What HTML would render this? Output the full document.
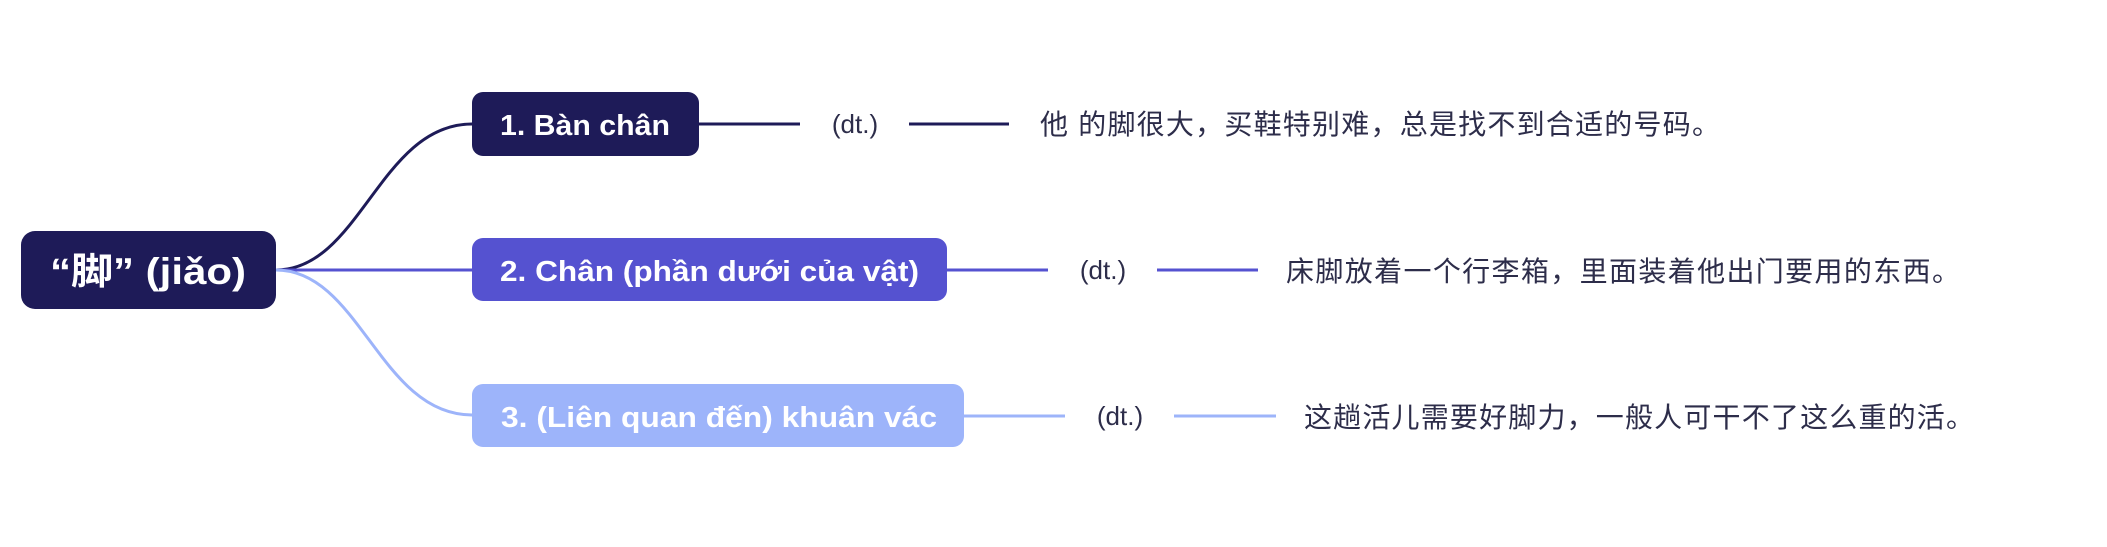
<!DOCTYPE html>
<html><head><meta charset="utf-8"><style>
html,body{margin:0;padding:0;background:#fff;}
body{width:2107px;height:547px;overflow:hidden;position:relative;}
svg{position:absolute;left:0;top:0;}
</style></head><body>
<svg width="2107" height="547" viewBox="0 0 2107 547" xmlns="http://www.w3.org/2000/svg">
<g fill="none" stroke-width="3">
<path d="M276 270 C 360 270, 380 124, 472 124" stroke="#1e1b58"/>
<path d="M276 270 L 472 270" stroke="#5552d0"/>
<path d="M276 270 C 360 270, 380 415, 472 415" stroke="#9db4fa"/>
<path d="M699 124 L800 124 M909 124 L1009 124" stroke="#1e1b58"/>
<path d="M947 270 L1048 270 M1157 270 L1258 270" stroke="#5552d0"/>
<path d="M964 416 L1065 416 M1174 416 L1276 416" stroke="#9db4fa"/>
</g>
<rect x="21" y="231" width="255" height="78" rx="14" fill="#1e1b58"/>
<rect x="472" y="92" width="227" height="64" rx="11" fill="#1e1b58"/>
<rect x="472" y="238" width="475" height="63" rx="11" fill="#5552d0"/>
<rect x="472" y="384" width="492" height="63" rx="11" fill="#9db4fa"/>
<g font-family="Liberation Sans, Noto Sans CJK SC, sans-serif" fill="#fff" font-weight="bold">
<text x="50" y="284" font-size="37" textLength="196" lengthAdjust="spacingAndGlyphs">“脚” (jiǎo)</text>
<text x="500" y="135" font-size="29" textLength="170" lengthAdjust="spacingAndGlyphs">1. Bàn chân</text>
<text x="500" y="281" font-size="29" textLength="419" lengthAdjust="spacingAndGlyphs">2. Chân (phần dưới của vật)</text>
<text x="501" y="427" font-size="29" textLength="436" lengthAdjust="spacingAndGlyphs">3. (Liên quan đến) khuân vác</text>
</g>
<g font-family="Liberation Sans, Noto Sans CJK SC, sans-serif" fill="#2d2d4a">
<text x="855" y="133" font-size="26" text-anchor="middle">(dt.)</text>
<text x="1103" y="279" font-size="26" text-anchor="middle">(dt.)</text>
<text x="1120" y="425" font-size="26" text-anchor="middle">(dt.)</text>
<text x="1040" y="134" font-size="28" textLength="680">他 的脚很大，买鞋特别难，总是找不到合适的号码。</text>
<text x="1286" y="281" font-size="28" textLength="674">床脚放着一个行李箱，里面装着他出门要用的东西。</text>
<text x="1304" y="427" font-size="28" textLength="670">这趟活儿需要好脚力，一般人可干不了这么重的活。</text>
</g>
</svg>
</body></html>
